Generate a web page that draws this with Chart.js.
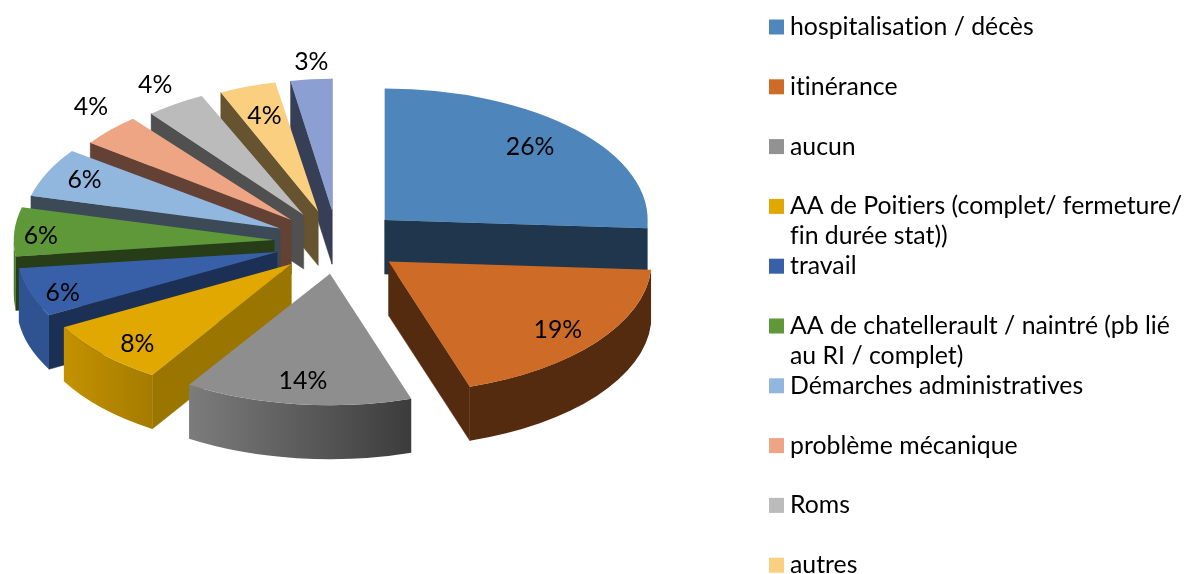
<!DOCTYPE html>
<html><head><meta charset="utf-8">
<style>html,body{margin:0;padding:0;background:#fff}#w{width:1184px;height:574px}</style>
<script src="https://cdn.jsdelivr.net/npm/chart.js@4"></script></head>
<body><div id="w"><canvas id="c" width="1184" height="574"></canvas></div>
<script>
const categories = ["hospitalisation / décès","itinérance","aucun","AA de Poitiers (complet/ fermeture/ fin durée stat))","travail","AA de chatellerault / naintré (pb lié au RI / complet)","Démarches administratives","problème mécanique","Roms","autres",""];
const values = [26,19,14,8,6,6,6,4,4,4,3];
const topColors = ["#4E86BC","#CE6B27","#8E8E8E","#E0A800","#3860A8","#5E9838","#92B7DF","#EDA584","#BBBBBB","#FBCF80","#8C9FD2"];
const cutColors = ["#1F364D","#552B10","#555555","#9A7500","#1C3055","#263D18","#3C4A58","#644135","#505050","#66532F","#363F56"];
const wallLeft  = ["#3B6A96","#552B10","#7C7C7C","#C49100","#2F5391","#4A7A2E","#6F8CAA","#B07E65","#8C8C8C","#C09F62","#6A79A0"];
const wallRight = ["#3B6A96","#552B10","#3C3C3C","#A57C00","#2F5391","#4A7A2E","#6F8CAA","#B07E65","#8C8C8C","#C09F62","#6A79A0"];
const legendLines = [["hospitalisation / décès"],["itinérance"],["aucun"],["AA de Poitiers (complet/ fermeture/","fin durée stat))"],["travail"],["AA de chatellerault / naintré (pb lié","au RI / complet)"],["Démarches administratives"],["problème mécanique"],["Roms"],["autres"]];
const legendColors = ["#4F87BD","#CE6B27","#929292","#E0A800","#3860A8","#5E9838","#92B7DF","#EDA584","#BBBBBB","#FBCF80"];

const TILT = 0.5, DEPTH = 54, RADIUS = 263, EXPLODE = 64;
// foreshortening of the slices that sit towards the back of the 3D view
const narrow = [1,1,1,.987,.99,.99,.978,.945,.91,.87,.84];
const labelRadius = [.79,.81,.82,.83,.87,.89,.84,1.15,1.15,.76,1.14];
const labelNudge = [[-6,-2],[1,3],[0,0],[3,5],[1,6],[-2,3],[0,-1],[8,-10],[-1,-2],[0,-1],[3,1]];
const FONT = '24.8px Lato, "Open Sans", sans-serif';

const geo = (a,i) => {
  const mid = (a.startAngle+a.endAngle)/2;
  return {mid, ox:a.x+Math.cos(mid)*EXPLODE, oy:a.y+Math.sin(mid)*EXPLODE*TILT, r:a.outerRadius, sx:narrow[i]};
};

const pie3d = {
  id:'pie3d',
  beforeDatasetsDraw(chart){
    const ctx = chart.ctx, arcs = chart.getDatasetMeta(0).data;
    const order = arcs.map((a,i)=>i).sort((p,q)=>geo(arcs[p],p).oy-geo(arcs[q],q).oy);
    order.forEach(i=>{
      const a = arcs[i], g = geo(a,i), rx = g.r*g.sx, ry = g.r*TILT;
      const pt = ang => [g.ox+Math.cos(ang)*rx, g.oy+Math.sin(ang)*ry];
      const wall = ang => {
        const p = pt(ang);
        ctx.beginPath();
        ctx.moveTo(g.ox,g.oy); ctx.lineTo(p[0],p[1]);
        ctx.lineTo(p[0],p[1]+DEPTH); ctx.lineTo(g.ox,g.oy+DEPTH); ctx.closePath();
        ctx.fillStyle = cutColors[i]; ctx.fill();
        ctx.strokeStyle = cutColors[i]; ctx.lineWidth=.5; ctx.stroke();
      };
      if (Math.cos(a.startAngle)<0) wall(a.startAngle);
      if (Math.cos(a.endAngle)>0) wall(a.endAngle);
      const a0 = Math.max(a.startAngle,0), a1 = Math.min(a.endAngle,Math.PI);
      if (a1>a0){
        const p0=pt(a0), p1=pt(a1);
        const gr = ctx.createLinearGradient(Math.min(p0[0],p1[0]),0,Math.max(p0[0],p1[0]),0);
        gr.addColorStop(0,wallLeft[i]); gr.addColorStop(1,wallRight[i]);
        ctx.beginPath();
        ctx.ellipse(g.ox,g.oy,rx,ry,0,a0,a1,false);
        ctx.ellipse(g.ox,g.oy+DEPTH,rx,ry,0,a1,a0,true);
        ctx.closePath();
        ctx.fillStyle=gr; ctx.fill();
      }
      ctx.save();
      ctx.translate(g.ox,g.oy); ctx.scale(g.sx,TILT); ctx.translate(-a.x,-a.y);
      a.draw(ctx,chart.chartArea);
      ctx.restore();
    });
    return false;
  },
  afterDraw(chart){
    const ctx = chart.ctx, arcs = chart.getDatasetMeta(0).data;
    ctx.save();
    ctx.font = FONT; ctx.letterSpacing='0.01px'; ctx.fillStyle='#000'; ctx.textAlign='center'; ctx.textBaseline='middle';
    arcs.forEach((a,i)=>{
      const g = geo(a,i), r = g.r*labelRadius[i];
      ctx.fillText(values[i]+'%', g.ox+Math.cos(g.mid)*r*g.sx+labelNudge[i][0], g.oy+Math.sin(g.mid)*r*TILT+labelNudge[i][1]);
    });
    ctx.textAlign='left';
    legendLines.forEach((lines,i)=>{
      const y = 27+59.8*i;
      ctx.fillStyle=legendColors[i]; ctx.fillRect(769,y-7.5,15,15);
      ctx.fillStyle='#000';
      lines.forEach((t,j)=>ctx.fillText(t,790,y+j*29.6));
    });
    ctx.restore();
  }
};

new Chart(document.getElementById('c'),{
  type:'pie',
  data:{labels:categories,datasets:[{data:values,backgroundColor:topColors,borderWidth:0}]},
  options:{
    responsive:false,animation:false,radius:RADIUS,
    layout:{padding:{left:0,top:0,right:508,bottom:90}},
    plugins:{legend:{display:false},tooltip:{enabled:false},title:{display:false}}
  },
  plugins:[pie3d]
});
</script></body></html>
